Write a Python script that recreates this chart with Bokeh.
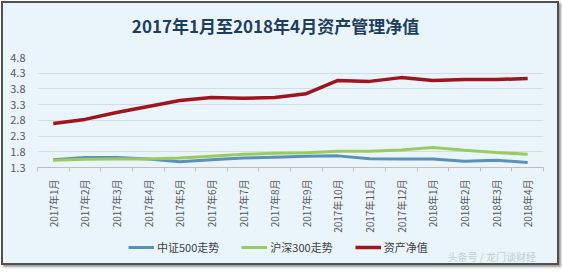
from bokeh.plotting import figure
from bokeh.models import FixedTicker, Legend, LegendItem, Label, Range1d
from bokeh.layouts import column
from bokeh.embed import file_html
from bokeh.resources import INLINE
from math import pi

months = ["2017年1月", "2017年2月", "2017年3月", "2017年4月", "2017年5月", "2017年6月",
          "2017年7月", "2017年8月", "2017年9月", "2017年10月", "2017年11月", "2017年12月",
          "2018年1月", "2018年2月", "2018年3月", "2018年4月"]
zz500 = [1.55, 1.62, 1.62, 1.57, 1.48, 1.55, 1.60, 1.63, 1.66, 1.67, 1.58, 1.57, 1.57, 1.50, 1.53, 1.46]
hs300 = [1.53, 1.56, 1.57, 1.57, 1.60, 1.66, 1.72, 1.75, 1.77, 1.82, 1.82, 1.86, 1.94, 1.85, 1.78, 1.72]
nav = [2.70, 2.83, 3.05, 3.24, 3.43, 3.53, 3.50, 3.53, 3.65, 4.07, 4.04, 4.16, 4.07, 4.10, 4.10, 4.13]
y_ticks = [1.3, 1.8, 2.3, 2.8, 3.3, 3.8, 4.3, 4.8]
series_names = ["中证500走势", "沪深300走势", "资产净值"]
series_colors = ["#5B90BD", "#9BCB5F", "#A0141E"]
title = "2017年1月至2018年4月资产管理净值"
watermark = "头条号 / 龙门谈财经"

xs = list(range(1, len(months) + 1))
bg = "#EAF5FB"
font = "Noto Sans CJK SC"


def strip(h):
    f = figure(frame_width=554, frame_height=h, output_backend="svg", toolbar_location=None,
               x_range=Range1d(0.5, len(months) + 0.5), y_range=Range1d(-2, -1),
               x_axis_type=None, y_axis_type=None,
               min_border_left=0, min_border_right=0, min_border_top=0, min_border_bottom=0)
    f.background_fill_color = bg
    f.border_fill_color = bg
    f.outline_line_color = None
    f.xgrid.grid_line_color = None
    f.ygrid.grid_line_color = None
    return f


# title strip
t = strip(44)
t.add_layout(Label(x=238, y=22, x_units="screen", y_units="screen", text=title,
                   text_font=font, text_font_size="17px", text_font_style="bold",
                   text_color="#1F3D5C", text_align="center", text_baseline="middle"))

# main chart
p = figure(frame_width=506, frame_height=110, output_backend="svg", toolbar_location=None,
           x_range=Range1d(0.5, len(months) + 0.5), y_range=Range1d(1.3, 4.8),
           min_border_left=34, min_border_right=14, min_border_top=10, min_border_bottom=0)
p.background_fill_color = bg
p.border_fill_color = bg
p.outline_line_color = None

p.xgrid.grid_line_color = None
p.ygrid.grid_line_color = "#D4DCE0"
p.ygrid.ticker = FixedTicker(ticks=y_ticks)

p.yaxis.ticker = FixedTicker(ticks=y_ticks)
p.yaxis.axis_line_color = None
p.yaxis.major_tick_line_color = None
p.yaxis.minor_tick_line_color = None
p.yaxis.major_label_text_font = font
p.yaxis.major_label_text_font_size = "11px"
p.yaxis.major_label_text_color = "#595959"
p.yaxis.major_label_standoff = 6

p.xaxis.ticker = FixedTicker(ticks=xs, minor_ticks=[x - 0.5 for x in xs] + [len(xs) + 0.5])
p.xaxis.major_label_overrides = {x: m for x, m in zip(xs, months)}
p.xaxis.major_label_orientation = pi / 2
p.xaxis.axis_line_color = "#BFBFBF"
p.xaxis.major_tick_line_color = None
p.xaxis.minor_tick_line_color = "#BFBFBF"
p.xaxis.minor_tick_in = 0
p.xaxis.minor_tick_out = 4
p.xaxis.major_label_text_font = font
p.xaxis.major_label_text_font_size = "10px"
p.xaxis.major_label_text_color = "#595959"
p.xaxis.major_label_standoff = 6

series = [zz500, hs300, nav]
widths = [3, 3, 3.5]
for ys, c, w in zip(series, series_colors, widths):
    p.line(xs, ys, line_color=c, line_width=w)

# legend strip (same series; data lies outside this strip's range, only the legend shows)
q = strip(28)
items = []
for ys, c, w, name in zip(series, series_colors, widths, series_names):
    r = q.line(xs, ys, line_color=c, line_width=w)
    items.append(LegendItem(label=name, renderers=[r]))

legend = Legend(items=items, orientation="horizontal", location=(125, 8),
                background_fill_alpha=0, border_line_color=None,
                label_text_font=font, label_text_font_size="11px",
                label_text_color="#404040", glyph_width=26, glyph_height=12,
                label_height=12, spacing=22, label_standoff=3, margin=0, padding=4)
q.add_layout(legend, "center")

q.add_layout(Label(x=410, y=0, x_units="screen", y_units="screen", text=watermark,
                   text_font=font, text_font_size="10px", text_color="#C4CCD2",
                   text_align="left", text_baseline="bottom"))

layout = column(t, p, q, spacing=0,
                styles={"border": "2px solid #505050", "margin": "1px",
                        "box-shadow": "2px 2px 2px #9a9a9a", "background-color": bg})

open("out.html", "w").write(file_html(layout, INLINE))
